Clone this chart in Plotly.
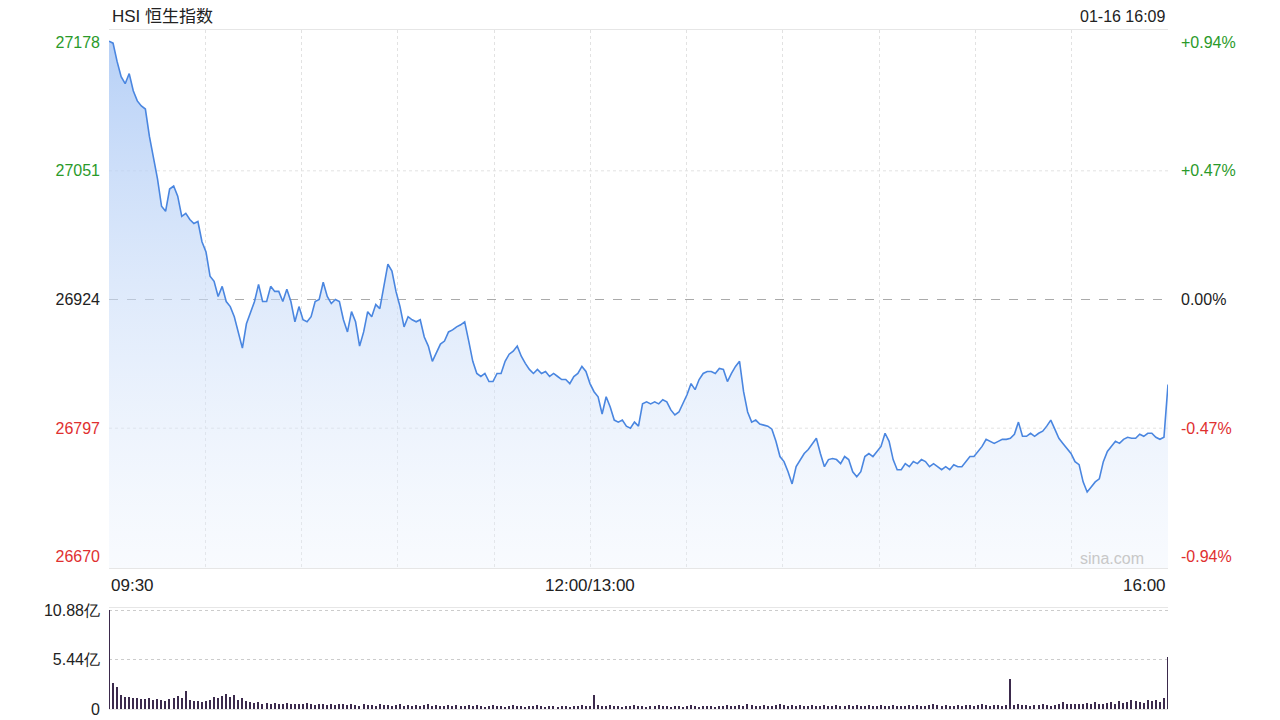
import numpy as np
import plotly.graph_objects as go

# HSI intraday, 01-16 (minutes since 09:30, lunch break removed)
prices = [
    27179, 27177, 27159, 27144, 27137, 27147, 27130, 27120, 27115, 27112,
    27085, 27065, 27043, 27016, 27011, 27033, 27036, 27026, 27006, 27009,
    27003, 26999, 27001, 26981, 26971, 26947, 26942, 26927, 26937, 26922,
    26917, 26907, 26892, 26876, 26900, 26912, 26922, 26939, 26922, 26922,
    26937, 26932, 26932, 26922, 26934, 26922, 26902, 26917, 26904, 26902,
    26907, 26922, 26924, 26941, 26927, 26920, 26924, 26922, 26904, 26892,
    26912, 26902, 26878, 26892, 26912, 26907, 26919, 26915, 26937, 26959,
    26952, 26932, 26917, 26897, 26907, 26904, 26902, 26904, 26887, 26878,
    26863, 26871, 26880, 26883, 26892, 26894, 26897, 26899, 26902, 26883,
    26863, 26851, 26848, 26851, 26843, 26843, 26851, 26851, 26863, 26870,
    26873, 26878, 26868, 26861, 26855, 26851, 26855, 26851, 26853, 26848,
    26851, 26848, 26845, 26845, 26841, 26848, 26851, 26858, 26853, 26841,
    26833, 26828, 26811, 26828, 26818, 26805, 26803, 26805, 26799, 26797,
    26803, 26799, 26821, 26823, 26821, 26823, 26821, 26825, 26823, 26815,
    26810, 26813, 26821, 26830, 26841, 26835, 26845, 26851, 26853, 26853,
    26851, 26856, 26855, 26843, 26851, 26858, 26863, 26833, 26813, 26803,
    26805, 26801, 26800, 26799, 26796, 26784, 26769, 26764, 26754, 26742,
    26759, 26766, 26772, 26776, 26781, 26787, 26772, 26759, 26766, 26767,
    26766, 26762, 26769, 26766, 26754, 26749, 26754, 26769, 26772, 26769,
    26774, 26779, 26792, 26784, 26766, 26756, 26756, 26762, 26759, 26764,
    26762, 26766, 26764, 26759, 26762, 26759, 26756, 26759, 26756, 26761,
    26759, 26759, 26764, 26769, 26769, 26774, 26779, 26786, 26784, 26782,
    26784, 26786, 26786, 26787, 26791, 26803, 26789, 26789, 26792, 26789,
    26792, 26794, 26799, 26805, 26796, 26787, 26782, 26777, 26772, 26764,
    26761, 26744, 26734, 26739, 26744, 26747, 26764, 26774, 26779, 26784,
    26782, 26786, 26788, 26787, 26787, 26791, 26789, 26792, 26792, 26788,
    26786, 26788, 26840,
]

# volume, 亿
volumes = [
    10.88, 2.9, 2.4, 1.5, 1.3, 1.3, 1.2, 1.2, 1.1, 1.1,
    1.2, 1.0, 1.1, 1.0, 0.9, 1.1, 1.2, 1.4, 1.2, 2.0,
    1.0, 0.9, 0.9, 0.8, 0.9, 1.0, 1.3, 1.2, 1.4, 1.6,
    1.3, 1.5, 1.0, 1.2, 0.9, 0.8, 0.7, 0.8, 0.6, 0.7,
    0.6, 0.7, 0.5, 0.6, 0.7, 0.5, 0.6, 0.5, 0.6, 0.7,
    0.5, 0.4, 0.6, 0.5, 0.4, 0.5, 0.4, 0.5, 0.6, 0.4,
    0.5, 0.4, 0.3, 0.5, 0.4, 0.4, 0.3, 0.5, 0.4, 0.4,
    0.3, 0.4, 0.5, 0.3, 0.4, 0.3, 0.4, 0.3, 0.4, 0.5,
    0.3, 0.4, 0.3, 0.3, 0.4, 0.3, 0.4, 0.3, 0.3, 0.4,
    0.3, 0.4, 0.3, 0.2, 0.3, 0.4, 0.3, 0.3, 0.2, 0.3,
    0.4, 0.3, 0.3, 0.2, 0.3, 0.3, 0.4, 0.3, 0.2, 0.3,
    0.3, 0.2, 0.3, 0.3, 0.2, 0.3, 0.3, 0.4, 0.3, 0.3,
    1.5, 0.4, 0.3, 0.3, 0.4, 0.3, 0.3, 0.2, 0.3, 0.3,
    0.4, 0.3, 0.3, 0.2, 0.3, 0.3, 0.4, 0.3, 0.3, 0.2,
    0.3, 0.3, 0.2, 0.3, 0.4, 0.3, 0.2, 0.3, 0.3, 0.3,
    0.2, 0.3, 0.3, 0.4, 0.3, 0.3, 0.4, 0.3, 0.5, 0.4,
    0.3, 0.3, 0.4, 0.3, 0.3, 0.4, 0.5, 0.4, 0.3, 0.4,
    0.3, 0.4, 0.3, 0.3, 0.4, 0.3, 0.3, 0.4, 0.3, 0.3,
    0.4, 0.3, 0.3, 0.4, 0.3, 0.4, 0.3, 0.3, 0.4, 0.3,
    0.3, 0.4, 0.3, 0.3, 0.4, 0.3, 0.3, 0.3, 0.4, 0.3,
    0.4, 0.3, 0.3, 0.4, 0.5, 0.4, 0.3, 0.4, 0.3, 0.3,
    0.4, 0.3, 0.4, 0.4, 0.3, 0.4, 0.5, 0.4, 0.3, 0.4,
    0.4, 0.3, 0.4, 3.3, 0.4, 0.5, 0.4, 0.4, 0.3, 0.4,
    0.4, 0.5, 0.4, 0.3, 0.4, 0.5, 0.8, 0.6, 0.5, 0.6,
    0.5, 0.6, 0.7, 0.5, 0.8, 0.6, 0.5, 0.7, 0.8, 0.6,
    0.9, 0.7, 0.8, 1.0, 0.9, 0.8, 0.7, 1.0, 0.9, 1.0,
    0.8, 1.2, 5.7,
]

PREV_CLOSE = 26924
left_ticks = [27178, 27051, 26924, 26797, 26670]
right_ticks = ["+0.94%", "+0.47%", "0.00%", "-0.47%", "-0.94%"]
tick_colors = ["#2a9a2a", "#2a9a2a", "#222222", "#e03030", "#e03030"]
vol_ticks = [10.88, 5.44, 0]
vol_labels = ["10.88亿", "5.44亿", "0"]
x_labels = ["09:30", "12:00/13:00", "16:00"]
x_label_pos = [0, 150, 330]

minutes = np.linspace(0, 330, len(prices))
vol_minutes = np.linspace(0, 330, len(volumes))

FONT = "Arial, Liberation Sans, sans-serif"
YR = [26659, 27190]
W, H = 1280, 720
OFF = 8  # page body margin


def px(p):
    return (p - OFF) / W


def py(p):
    return 1 - (p - OFF) / H


fig = go.Figure()

# baseline for the gradient fill
fig.add_trace(go.Scatter(
    x=[0, 330], y=[YR[0], YR[0]], mode="lines",
    line=dict(width=0), showlegend=False, hoverinfo="skip",
    xaxis="x", yaxis="y",
))
fig.add_trace(go.Scatter(
    x=minutes, y=prices, mode="lines",
    line=dict(color="#4a86e0", width=1.6),
    fill="tonexty",
    fillgradient=dict(
        type="vertical",
        colorscale=[[0, "rgba(232,240,252,0.3)"], [1, "rgba(170,200,245,0.85)"]],
    ),
    showlegend=False,
    xaxis="x", yaxis="y",
))
fig.add_trace(go.Bar(
    x=vol_minutes, y=volumes, width=0.4,
    marker=dict(color="#3b2a4c", line=dict(width=0)),
    showlegend=False, xaxis="x2", yaxis="y3",
))
# dummy trace so the right axis is drawn
fig.add_trace(go.Scatter(x=[None], y=[None], xaxis="x", yaxis="y2", showlegend=False))

grid = "#e2e2e2"
fig.update_layout(
    width=W, height=H,
    margin=dict(l=0, r=0, t=0, b=0, autoexpand=False),
    paper_bgcolor="white", plot_bgcolor="white",
    font=dict(family=FONT, size=16, color="#222"),
    bargap=0,
    xaxis=dict(
        domain=[px(109), px(1168)], range=[0, 330], automargin=False,
        tickvals=list(range(0, 331, 30)), showticklabels=False,
        showgrid=True, gridcolor=grid, griddash="dot", zeroline=False,
        showline=True, linecolor="#e6e6e6", mirror=True,
    ),
    yaxis=dict(
        domain=[py(568), py(30)], range=YR, automargin=False,
        tickvals=left_ticks,
        ticktext=[f"<span style='color:{c}'>{t}</span>" for t, c in zip(left_ticks, tick_colors)],
        showgrid=False, zeroline=False, ticks="", ticklabelstandoff=8,
        tickfont=dict(size=16),
    ),
    yaxis2=dict(
        overlaying="y", side="right", range=YR, anchor="x", automargin=False,
        tickvals=left_ticks,
        ticktext=[f"<span style='color:{c}'>{t}</span>" for t, c in zip(right_ticks, tick_colors)],
        showgrid=False, zeroline=False, ticks="", ticklabelstandoff=12,
        tickfont=dict(size=16),
    ),
    xaxis2=dict(
        domain=[px(109), px(1168)], range=[0, 330], anchor="y3", automargin=False,
        showticklabels=False, showgrid=False, zeroline=False,
        showline=True, linecolor="#e6e6e6", mirror=True,
    ),
    yaxis3=dict(
        domain=[py(709), py(608)], range=[0, 11.1], automargin=False,
        tickvals=vol_ticks, ticktext=vol_labels,
        showgrid=True, gridcolor="#cccccc", griddash="dot", zeroline=False,
        ticks="", ticklabelstandoff=8, tickfont=dict(size=16),
    ),
)

for lvl, dash, col in [(27051, "dot", grid), (26797, "dot", grid), (PREV_CLOSE, "dash", "#aaaaaa")]:
    fig.add_shape(type="line", xref="x", yref="y", x0=0, x1=330, y0=lvl, y1=lvl,
                  line=dict(color=col, width=1, dash=dash), layer="below")

for txt, pos, anc in zip(x_labels, x_label_pos, ["left", "center", "right"]):
    fig.add_annotation(x=pos, y=py(585), xref="x", yref="paper", text=txt, showarrow=False,
                       xanchor=anc, yanchor="middle", font=dict(size=17, color="#222"))

fig.add_annotation(x=px(110), y=py(17), xref="paper", yref="paper",
                   text="HSI 恒生指数", showarrow=False, xanchor="left", yanchor="middle",
                   font=dict(size=17, color="#222", family="Arial, Noto Sans CJK SC, sans-serif"))
fig.add_annotation(x=px(1168), y=py(17), xref="paper", yref="paper",
                   text="01-16 16:09", showarrow=False, xanchor="right", yanchor="middle",
                   font=dict(size=16, color="#222"))
fig.add_annotation(x=px(1146), y=py(558), xref="paper", yref="paper",
                   text="sina.com", showarrow=False, xanchor="right", yanchor="middle",
                   font=dict(size=16, color="#c8c8c8"))

fig.write_html("out.html")
